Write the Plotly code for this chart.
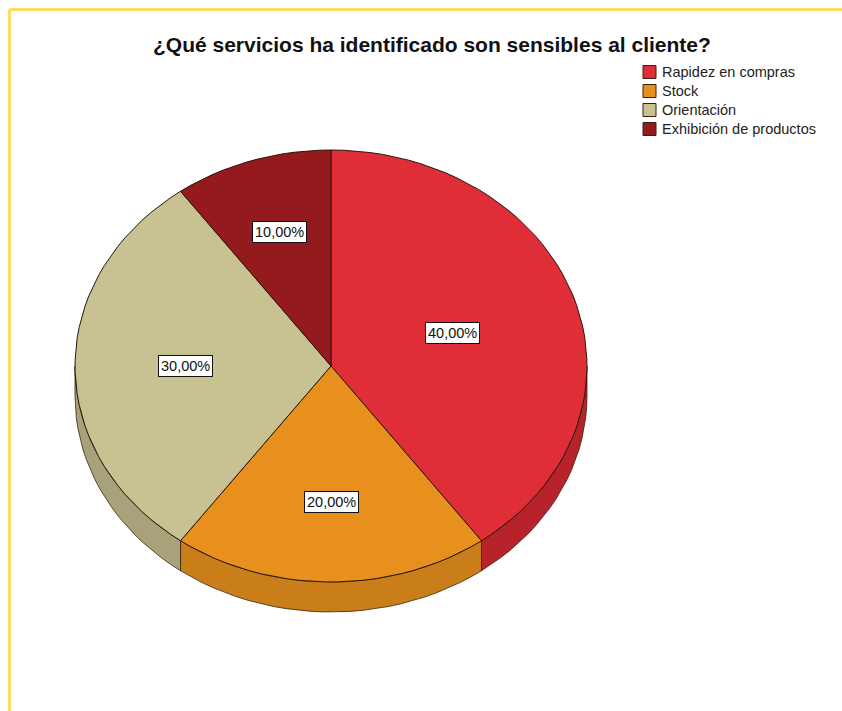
import numpy as np
import plotly.graph_objects as go

# Data
categories = ["Rapidez en compras", "Stock", "Orientación", "Exhibición de productos"]
percentages = [40.0, 20.0, 30.0, 10.0]

# Styling
top_colors = ["#DF2E37", "#E8901D", "#C8C191", "#951A1E"]
side_colors = ["#B8232B", "#C97E1A", "#A7A27A", "#7A1518"]
label_radius = [0.50, 0.63, 0.57, 0.65]
FONT = "Liberation Sans, Arial, sans-serif"

W, H = 842, 711
cx, cy, rx, ry, depth = 331, 366, 256, 216, 30


def ellipse_pts(a, b, dy=0.0, n=120):
    t = np.linspace(a, b, max(int(n * (b - a) / (2 * np.pi)) + 2, 3))
    return cx + rx * np.sin(t), cy - ry * np.cos(t) + dy


fig = go.Figure()

total = sum(percentages)
bounds = np.concatenate([[0], np.cumsum(percentages)]) / total * 2 * np.pi

# side walls of the front half (angles between 90 and 270 degrees)
for i, (a, b) in enumerate(zip(bounds[:-1], bounds[1:])):
    lo, hi = max(a, np.pi / 2), min(b, 3 * np.pi / 2)
    if hi <= lo:
        continue
    xt, yt = ellipse_pts(lo, hi)
    xb, yb = ellipse_pts(lo, hi, dy=depth)
    xs = np.concatenate([xt, xb[::-1], xt[:1]])
    ys = np.concatenate([yt, yb[::-1], yt[:1]])
    fig.add_trace(go.Scatter(
        x=xs, y=ys, mode="lines", fill="toself", fillcolor=side_colors[i],
        line=dict(color="rgba(50,25,10,0.75)", width=1), hoverinfo="skip",
        showlegend=False))

# top faces
for i, (a, b) in enumerate(zip(bounds[:-1], bounds[1:])):
    xa, ya = ellipse_pts(a, b)
    xs = np.concatenate([[cx], xa, [cx]])
    ys = np.concatenate([[cy], ya, [cy]])
    fig.add_trace(go.Scatter(
        x=xs, y=ys, mode="lines", fill="toself", fillcolor=top_colors[i],
        line=dict(color="#2A1608", width=1), name=categories[i],
        hovertemplate=f"{categories[i]}: {percentages[i]:.2f}%<extra></extra>".replace(".", ","),
        showlegend=False))

# percentage labels
for i, (a, b) in enumerate(zip(bounds[:-1], bounds[1:])):
    m = (a + b) / 2
    f = label_radius[i]
    fig.add_annotation(
        x=cx + rx * f * np.sin(m), y=cy - ry * f * np.cos(m),
        text=f"{percentages[i]:.2f}%".replace(".", ","), showarrow=False,
        bgcolor="white", bordercolor="#111111", borderwidth=1, borderpad=2,
        font=dict(family=FONT, size=14.5, color="#111111"))

# legend
leg_x, leg_y0, leg_dy = 643, 72, 19
for i, name in enumerate(categories):
    y = leg_y0 + i * leg_dy
    fig.add_shape(type="rect", x0=leg_x, x1=leg_x + 13, y0=y - 6.5, y1=y + 6.5,
                  fillcolor=top_colors[i], line=dict(color="#3A2010", width=1))
    fig.add_annotation(x=leg_x + 17, y=y, text=name, showarrow=False, xanchor="left",
                       font=dict(family=FONT, size=14.5, color="#222222"))

# frame
fig.add_shape(type="line", x0=9.5, x1=W, y0=9.5, y1=9.5,
              line=dict(color="#FFD966", width=3))
fig.add_shape(type="line", x0=9.5, x1=9.5, y0=9.5, y1=H,
              line=dict(color="#FFD966", width=3))

fig.add_annotation(x=432, y=44, text="<b>¿Qué servicios ha identificado son sensibles al cliente?</b>",
                   showarrow=False,
                   font=dict(family=FONT, size=21, color="#111111"))

fig.update_layout(
    width=W, height=H, margin=dict(l=0, r=0, t=0, b=0),
    paper_bgcolor="white", plot_bgcolor="white",
    xaxis=dict(range=[0, W], visible=False, fixedrange=True),
    yaxis=dict(range=[H, 0], visible=False, fixedrange=True),
)

fig.write_html("out.html")
